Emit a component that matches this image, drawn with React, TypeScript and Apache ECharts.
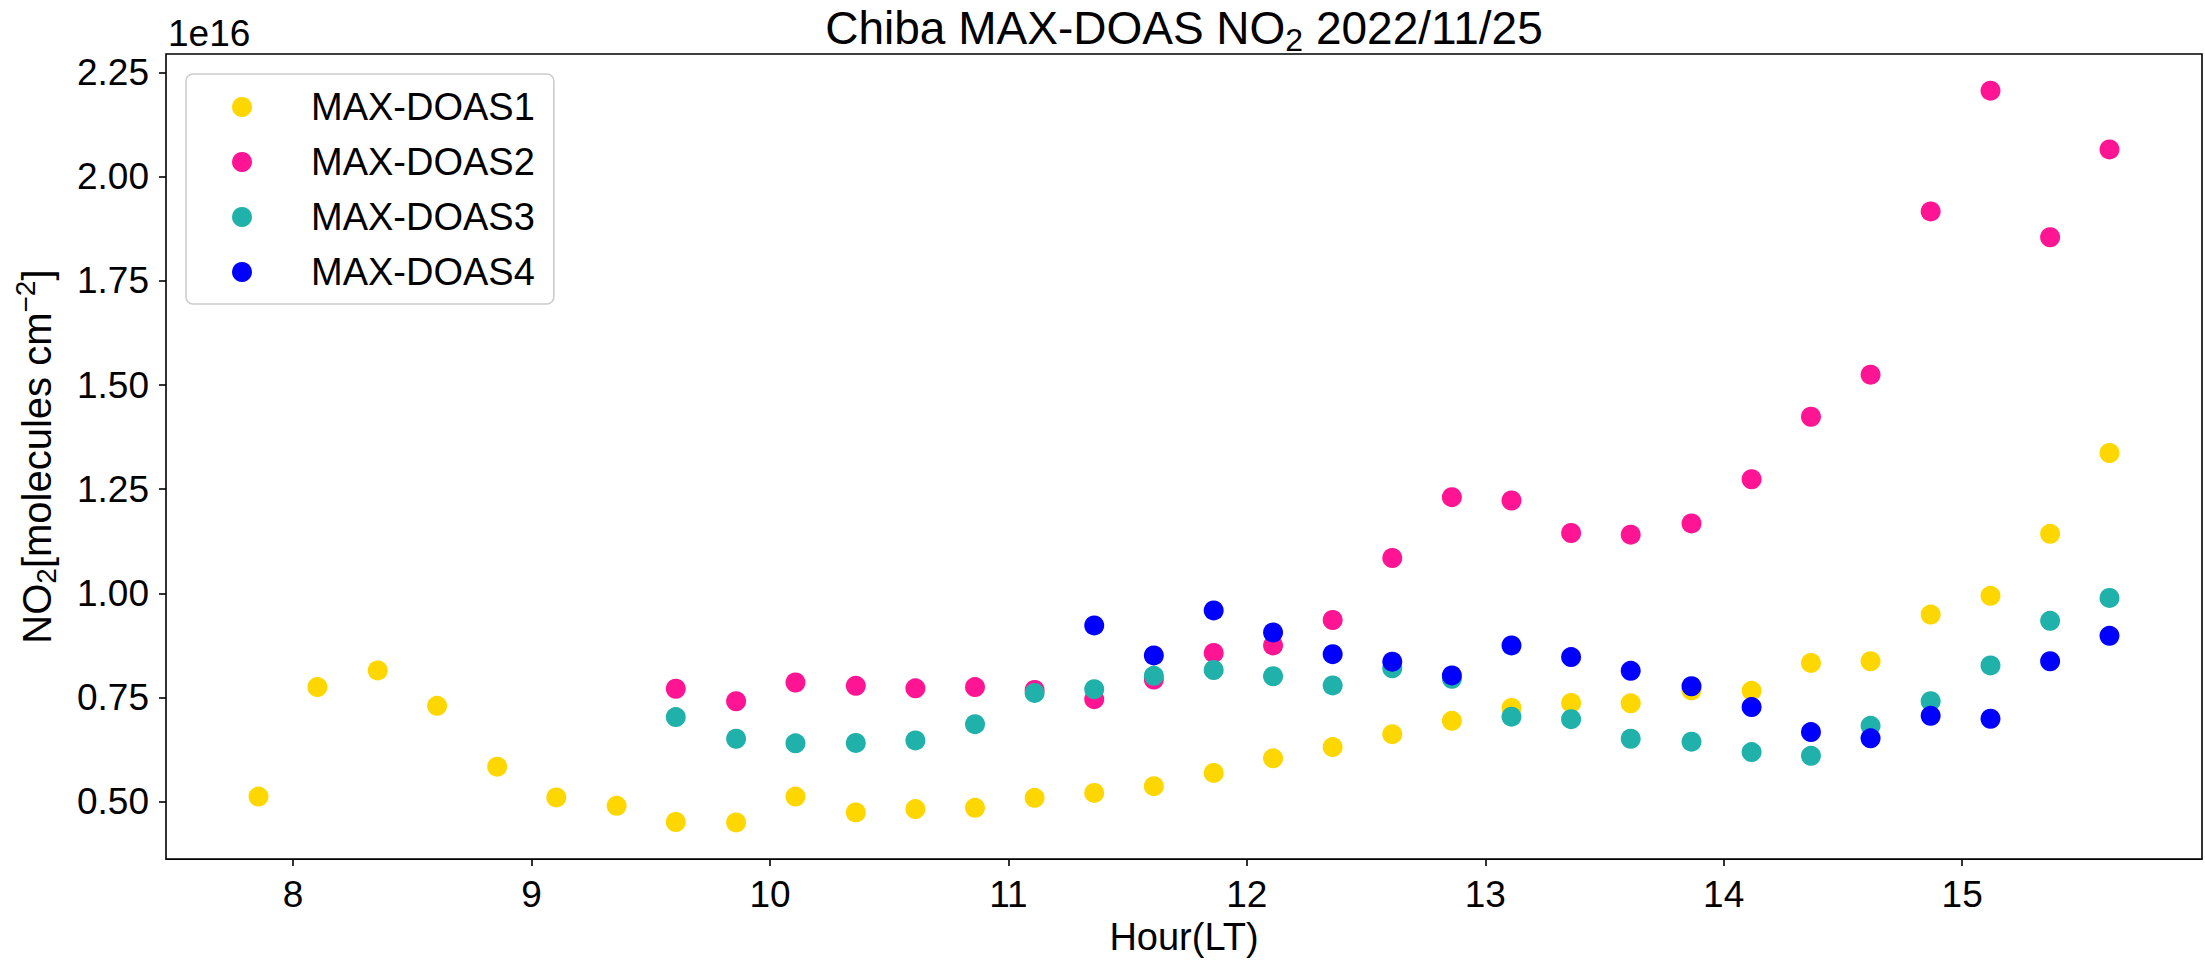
import React, { useEffect, useRef } from "react";
import * as echarts from "echarts";

// Local time (hours) of each measurement slot
const hours = [
  7.855, 8.102, 8.355, 8.604, 8.856, 9.104, 9.357, 9.605, 9.858, 10.107,
  10.36, 10.61, 10.86, 11.11, 11.36, 11.61, 11.861, 12.11, 12.36, 12.61,
  12.86, 13.11, 13.36, 13.61, 13.865, 14.117, 14.366, 14.616, 14.868, 15.119,
  15.369, 15.618,
];

// NO2 columns in units of 1e16 molecules cm^-2
const doas1 = [
  0.512, 0.775, 0.815, 0.73, 0.584, 0.51, 0.49, 0.451, 0.45, 0.512, 0.474,
  0.482, 0.485, 0.509, 0.521, 0.537, 0.569, 0.604, 0.631, 0.662, 0.694, 0.725,
  0.737, 0.736, 0.767, 0.766, 0.833, 0.837, 0.949, 0.994, 1.143, 1.337,
];
const doas2 = [
  0.771, 0.741, 0.786, 0.778, 0.772, 0.775, 0.768, 0.746, 0.793, 0.857, 0.875,
  0.936, 1.085, 1.231, 1.223, 1.145, 1.141, 1.168, 1.274, 1.424, 1.525, 1.917,
  2.207, 1.855, 2.066,
];
const doas3 = [
  0.703, 0.651, 0.64, 0.641, 0.647, 0.686, 0.761, 0.77, 0.802, 0.816, 0.801,
  0.779, 0.82, 0.795, 0.704, 0.698, 0.651, 0.644, 0.619, 0.61, 0.682, 0.741,
  0.827, 0.934, 0.989,
];
const doas4 = [
  0.923, 0.851, 0.959, 0.906, 0.854, 0.836, 0.803, 0.875, 0.847, 0.814, 0.777,
  0.727, 0.667, 0.652, 0.706, 0.699, 0.837, 0.898,
];

const seriesNames = ["MAX-DOAS1", "MAX-DOAS2", "MAX-DOAS3", "MAX-DOAS4"];
const seriesColors = ["#FFD700", "#FF1493", "#20B2AA", "#0000FF"];
const seriesValues = [doas1, doas2, doas3, doas4];

const xTicks = [8, 9, 10, 11, 12, 13, 14, 15];
const yTicks = [0.5, 0.75, 1.0, 1.25, 1.5, 1.75, 2.0, 2.25];

const FONT = "'Liberation Sans', Arial, Helvetica, sans-serif";

function pairs(values: number[]) {
  const offset = hours.length - values.length;
  return values.map((v, i) => [hours[i + offset], v]);
}

export default function App() {
  const ref = useRef<HTMLDivElement>(null);

  useEffect(() => {
    if (!ref.current) return;
    const chart = echarts.init(ref.current, null, { renderer: "svg" });

    const axisCommon = {
      type: "value" as const,
      splitLine: { show: false },
      axisLine: { show: false },
      axisTick: {
        show: true,
        inside: false,
        length: 7,
        lineStyle: { color: "#000", width: 1.6 },
      },
    };

    chart.setOption({
      animation: false,
      backgroundColor: "#ffffff",
      title: {
        text: "Chiba MAX-DOAS NO{sub|2} 2022/11/25",
        left: 1184,
        textAlign: "center",
        top: 0,
        padding: 0,
        textStyle: {
          fontFamily: FONT,
          fontSize: 46,
          fontWeight: "normal",
          color: "#000",
          rich: {
            sub: {
              fontFamily: FONT,
              fontSize: 32,
              color: "#000",
              padding: [24, 0, 0, 0],
            },
          },
        },
      },
      graphic: [
        {
          type: "text",
          left: 168,
          top: 15,
          style: {
            text: "1e16",
            fontFamily: FONT,
            fontSize: 37,
            fill: "#000",
          },
        },
      ],
      legend: {
        orient: "vertical",
        left: 186,
        top: 74,
        padding: [13, 19, 12, 46],
        itemWidth: 20,
        itemHeight: 20,
        itemGap: 15,
        icon: "circle",
        backgroundColor: "rgba(255,255,255,0.8)",
        borderColor: "#cccccc",
        borderWidth: 1.6,
        borderRadius: 7,
        data: seriesNames,
        formatter: (name: string) => `{t|${name}}`,
        textStyle: {
          fontFamily: FONT,
          fontSize: 38,
          color: "#000",
          lineHeight: 40,
          rich: {
            t: {
              fontFamily: FONT,
              fontSize: 38,
              color: "#000",
              lineHeight: 40,
              padding: [0, 0, 0, 54],
            },
          },
        },
      },
      grid: {
        left: 166,
        top: 54,
        width: 2036,
        height: 809,
        show: true,
        borderColor: "#000",
        borderWidth: 1.6,
        backgroundColor: "transparent",
        containLabel: false,
      },
      xAxis: {
        ...axisCommon,
        min: 7.467,
        max: 16.006,
        axisTick: { ...axisCommon.axisTick, customValues: xTicks },
        axisLabel: {
          customValues: xTicks,
          fontFamily: FONT,
          fontSize: 37,
          color: "#000",
          margin: 17,
          formatter: (v: number) => String(v),
        },
        name: "Hour(LT)",
        nameLocation: "middle",
        nameGap: 57,
        nameTextStyle: { fontFamily: FONT, fontSize: 38, color: "#000" },
      },
      yAxis: {
        ...axisCommon,
        min: 0.362,
        max: 2.295,
        axisTick: { ...axisCommon.axisTick, customValues: yTicks },
        axisLabel: {
          customValues: yTicks,
          fontFamily: FONT,
          fontSize: 37,
          color: "#000",
          margin: 17,
          formatter: (v: number) => v.toFixed(2),
        },
        name: "NO{sub|2}[molecules cm{sup|−2}]",
        nameLocation: "middle",
        nameRotate: 90,
        nameGap: 103,
        nameTextStyle: {
          fontFamily: FONT,
          fontSize: 40,
          color: "#000",
          rich: {
            sub: { fontFamily: FONT, fontSize: 28, color: "#000", padding: [18, 0, 0, 0] },
            sup: { fontFamily: FONT, fontSize: 28, color: "#000", padding: [0, 0, 24, 0] },
          },
        },
      },
      series: seriesNames.map((name, k) => ({
        name,
        type: "scatter",
        symbol: "circle",
        symbolSize: 20,
        itemStyle: { color: seriesColors[k], opacity: 1 },
        emphasis: { disabled: true },
        data: pairs(seriesValues[k]),
        z: 2 + k,
      })),
    });

    return () => chart.dispose();
  }, []);

  return (
    <div
      ref={ref}
      style={{ position: "absolute", left: 0, top: 0, width: 2205, height: 961 }}
    />
  );
}
